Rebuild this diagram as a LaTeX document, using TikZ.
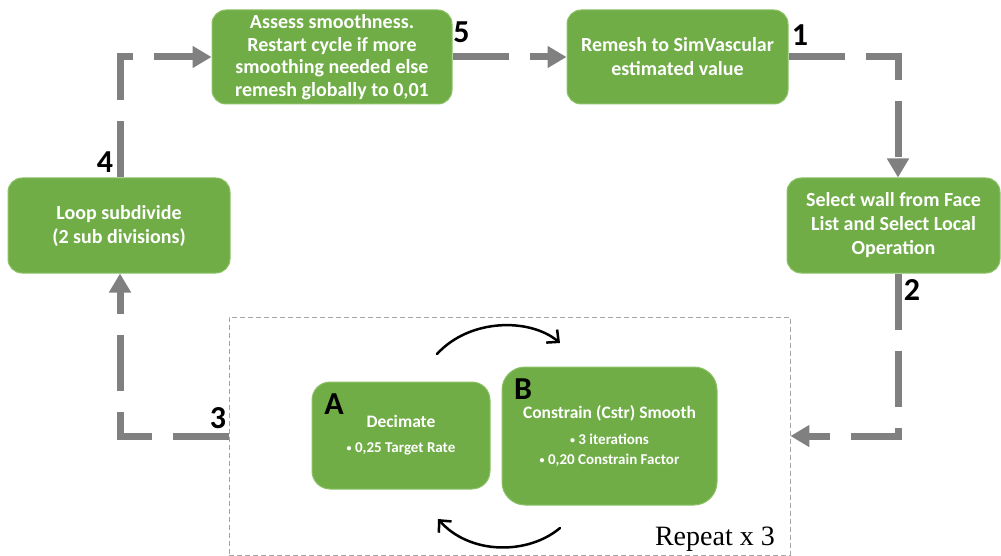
\documentclass[tikz,border=0pt]{standalone}
\usepackage{fontspec}
\setmainfont{Carlito}
\newfontfamily\serifface{Liberation Serif}
\usetikzlibrary{arrows.meta,calc}

\definecolor{stepgreen}{HTML}{70AD47}
\definecolor{steprim}{HTML}{8CC168}
\definecolor{flowgray}{HTML}{808080}
\definecolor{framegray}{HTML}{A6A6A6}

% small list bullet
\newcommand{\listdot}{\raisebox{0.15ex}{\fontsize{10}{10}\selectfont•}}

\begin{document}
\begin{tikzpicture}[x=1pt,y=-1pt,
  stepbox/.style={rectangle, rounded corners=14pt, fill=stepgreen, draw=steprim,
    line width=1pt, text=white, align=center, inner sep=0pt,
    font=\bfseries\fontsize{20}{24}\selectfont},
  subbox/.style={stepbox, font=\bfseries\fontsize{15}{20}\selectfont},
  numlabel/.style={inner sep=0pt, text=black, font=\bfseries\fontsize{32}{32}\selectfont},
  flow/.style={draw=flowgray, line width=7pt, dash pattern=on 56pt off 21pt,
    -{Triangle[length=19pt,width=21pt]}},
  swirl/.style={draw=black, line width=2.5pt, line cap=round,
    -{Straight Barb[length=9pt,width=17pt]}},
  frame/.style={draw=framegray, line width=0.9pt, dash pattern=on 5pt off 3pt,
    inner sep=0pt}
]
\useasboundingbox (0,0) rectangle (1001,556);

% main cycle steps
\node[stepbox, minimum width=240pt, minimum height=94pt, font=\bfseries\fontsize{20}{22.5}\selectfont]
  (assess) at (332,57)
  {Assess smoothness.\\Restart cycle if more\\smoothing needed else\\remesh globally to 0,01};
\node[stepbox, minimum width=221pt, minimum height=94pt] (remesh) at (677.5,57)
  {Remesh to SimVascular\\estimated value};
\node[stepbox, minimum width=213pt, minimum height=95pt] (select) at (893.5,225.5)
  {Select wall from Face\\List and Select Local\\Operation};
\node[stepbox, minimum width=222pt, minimum height=95pt] (loop) at (119,225.5)
  {Loop subdivide\\(2 sub divisions)};

% repeated local operation
\node[frame, minimum width=561pt, minimum height=238pt] (repeatframe) at (509.5,436) {};
\node[subbox, rounded corners=18pt, minimum width=178pt, minimum height=107pt] (deci) at (401,435.5)
  {{\fontsize{17.5}{20}\selectfont Decimate}\\[5pt]\listdot\ 0,25 Target Rate};
\node[subbox, rounded corners=23pt, minimum width=215pt, minimum height=138pt] (smooth) at (609.5,436)
  {{\fontsize{17.5}{20}\selectfont Constrain (Cstr) Smooth}\\[6pt]\listdot\ 3 iterations\\\listdot\ 0,20 Constrain Factor};
\node[numlabel] (la) at (334,404) {A};
\node[numlabel] (lb) at (523,389) {B};
\node[anchor=base east, inner sep=0pt, font=\serifface\fontsize{28}{28}\selectfont]
  (rep) at (775,545) {Repeat x 3};

% swirl arrows between A and B
\coordinate (s1) at (437,354);
\coordinate (s2) at (560,343);
\coordinate (s3) at (560,528);
\coordinate (s4) at (438,519);
\draw[swirl] (s1) .. controls (470,318) and (530,318) .. (s2);
\draw[swirl] (s3) .. controls (528,555) and (470,555) .. (s4);

% dashed flow connectors
\draw[flow] (assess.east) -- (remesh.west);
\draw[flow] (remesh.east) -| ([xshift=4.5pt]select.north);
\draw[flow] ([xshift=4.5pt]select.south) |- (repeatframe.east);
\draw[flow] (repeatframe.west) -| ([xshift=1pt]loop.south);
\draw[flow] ([xshift=1pt]loop.north) |- (assess.west);

% step numbers
\node[numlabel] (n5) at (461.5,32.5) {5};
\node[numlabel] (n1) at (800,35) {1};
\node[numlabel] (n2) at (912,290) {2};
\node[numlabel] (n3) at (218,418) {3};
\node[numlabel] (n4) at (105,162) {4};
\end{tikzpicture}
\end{document}
